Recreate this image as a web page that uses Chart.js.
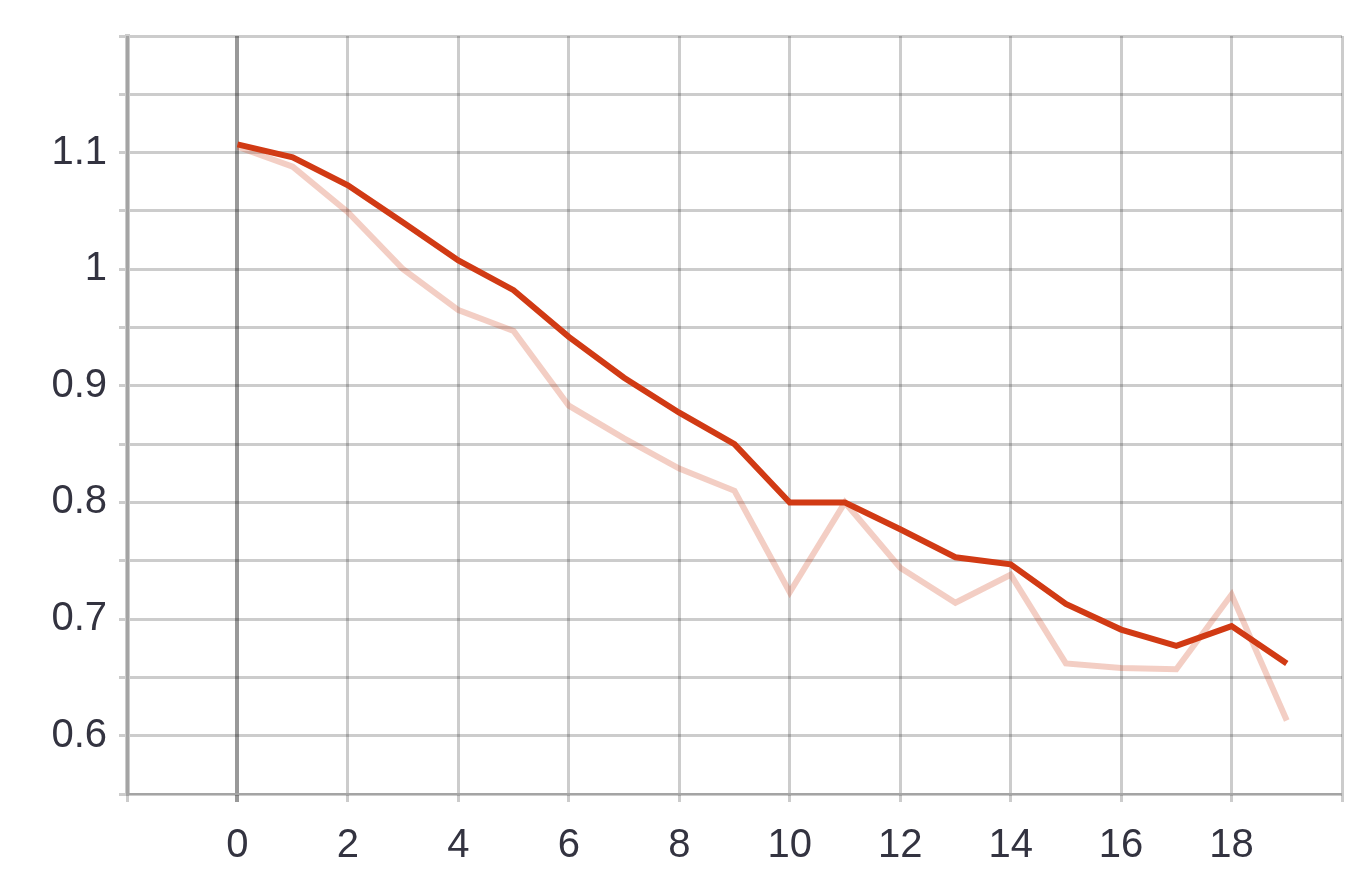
<!DOCTYPE html>
<html><head><meta charset="utf-8">
<script src="https://cdn.jsdelivr.net/npm/chart.js@4"></script>
<style>html,body{margin:0;padding:0;background:#fff}#w{width:1362px;height:892px}</style>
</head><body><div id="w"><canvas id="c"></canvas></div>
<script>
const steps=[0,1,2,3,4,5,6,7,8,9,10,11,12,13,14,15,16,17,18,19];
const smoothed=[1.107,1.096,1.072,1.040,1.0075,0.982,0.942,0.907,0.877,0.850,0.800,0.800,0.777,0.753,0.747,0.713,0.691,0.677,0.694,0.662];
const raw=[1.105,1.088,1.049,1.000,0.965,0.947,0.883,0.855,0.829,0.810,0.723,0.800,0.744,0.714,0.738,0.662,0.658,0.657,0.721,0.613];
const xTicks=[0,2,4,6,8,10,12,14,16,18];
const yTicks=[0.6,0.7,0.8,0.9,1,1.1];
const pts=a=>steps.map((s,i)=>({x:s,y:a[i]}));
new Chart(document.getElementById('c'),{type:'line',
data:{datasets:[
{data:pts(raw),borderColor:'rgba(209,58,20,0.25)',borderWidth:6,pointRadius:0,tension:0},
{data:pts(smoothed),borderColor:'#d13a14',borderWidth:6,pointRadius:0,tension:0}]},
options:{responsive:true,maintainAspectRatio:false,animation:false,
layout:{padding:{top:-6,right:10,left:0,bottom:0}},
plugins:{legend:{display:false},tooltip:{enabled:false}},
scales:{
x:{type:'linear',min:-2,max:20,afterFit:s=>{s.height=98},
ticks:{stepSize:2,font:{size:40,family:'Liberation Sans'},color:'#333340',padding:20,
callback:v=>xTicks.includes(v)?String(v):''},
grid:{color:c=>c.tick&&c.tick.value===0?'rgba(0,0,0,0.4)':'rgba(0,0,0,0.2)',lineWidth:c=>c.tick&&c.tick.value===0?4:3,tickLength:8},
border:{display:true,color:'rgba(0,0,0,0.2)',width:2}},
y:{min:0.55,max:1.2,afterFit:s=>{s.width=127},
ticks:{stepSize:0.05,font:{size:40,family:'Liberation Sans'},color:'#333340',padding:12,
callback:v=>{const r=Math.round(v*100)/100;return yTicks.some(t=>Math.abs(t-r)<1e-6)?String(r):''}},
grid:{color:'rgba(0,0,0,0.2)',lineWidth:3,tickLength:8},
border:{display:true,color:'rgba(0,0,0,0.2)',width:5}}}}});
</script></body></html>
